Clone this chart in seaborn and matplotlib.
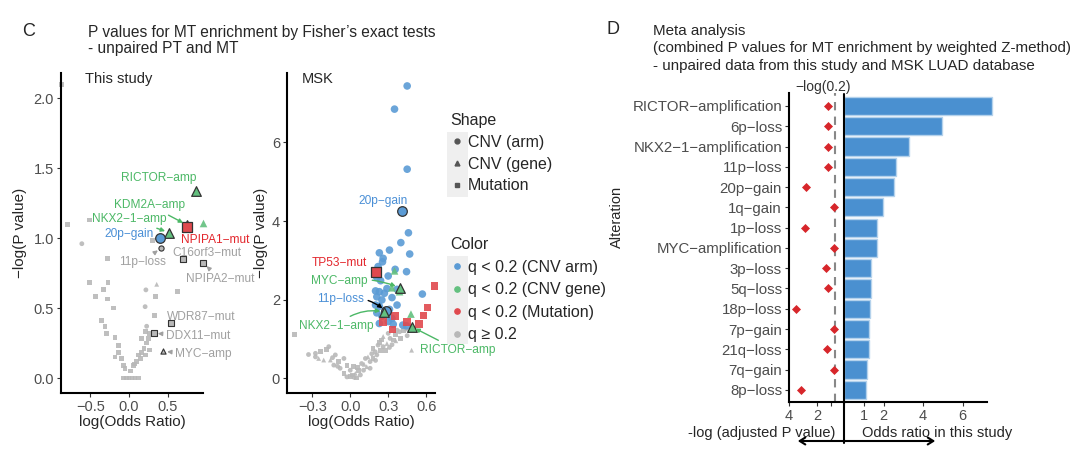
import numpy as np
import pandas as pd
import matplotlib
matplotlib.use('Agg')
import matplotlib.pyplot as plt
import matplotlib.patches as mpatches
from matplotlib.lines import Line2D
import seaborn as sns

# ---------------- data: panel C, "This study" ----------------
study_bg_x = [-0.87, -0.80, -0.51, -0.61, -0.28, -0.51, -0.27, -0.43, -0.33, -0.28,
              -0.20, -0.36, -0.31, -0.29, -0.18, -0.14, -0.13, -0.18, -0.095, -0.07,
              -0.05, -0.07, -0.03, 0.0, 0.04, 0.08, 0.12, 0.055, 0.10, 0.12,
              0.165, 0.195, 0.23, 0.165, 0.25, 0.22, 0.26, 0.22, 0.27, 0.34,
              0.36, 0.22, 0.21, 0.23, 0.33, 0.63, 0.31, 0.02, 0.07, 0.15]
study_bg_y = [2.10, 1.10, 1.13, 0.96, 0.855, 0.68, 0.68, 0.585, 0.63, 0.565,
              0.50, 0.41, 0.37, 0.32, 0.29, 0.23, 0.18, 0.15, 0.14, 0.09,
              0.07, 0.0, 0.0, 0.0, 0.0, 0.0, 0.0, 0.09, 0.12, 0.165,
              0.18, 0.21, 0.25, 0.28, 0.28, 0.33, 0.32, 0.165, 0.20, 0.58,
              0.67, 0.63, 0.51, 0.37, 0.445, 0.62, 0.985, 0.05, 0.10, 0.14]
study_bg_kind = ['mut'] * 50
study_bg_kind[3] = 'arm'
study_bg_kind[41] = 'arm'
study_bg_kind[42] = 'arm'
study_bg_kind[43] = 'arm'
study_bg_kind[40] = 'gene'

study_sig_x = [0.965]
study_sig_y = [1.11]
study_sig_kind = ['gene']

study_lab = ['RICTOR-amp', 'KDM2A-amp', 'NPIPA1-mut', 'NKX2-1-amp', '20p-gain', '11p-loss',
             'C16orf3-mut', 'NPIPA2-mut', 'WDR87-mut', 'DDX11-mut', 'MYC-amp']
study_lab_x = [0.87, 0.75, 0.75, 0.52, 0.40, 0.42, 0.70, 0.965, 0.545, 0.32, 0.44]
study_lab_y = [1.34, 1.095, 1.08, 1.04, 1.00, 0.93, 0.85, 0.82, 0.395, 0.32, 0.19]
study_lab_kind = ['gene', 'gene', 'mut', 'gene', 'arm', 'arm', 'mut', 'mut', 'mut', 'mut', 'gene']
study_lab_grp = ['gene', 'gene', 'mut', 'gene', 'arm', 'ns', 'ns', 'ns', 'ns', 'ns', 'ns']

# ---------------- data: panel C, MSK ----------------
msk_bg_x = [-0.44, -0.275, -0.236, -0.17, -0.157, -0.118, -0.09, -0.05, -0.026, 0.0,
            0.04, 0.08, 0.015, -0.026, 0.05, 0.105, 0.13, 0.157, 0.18, 0.21,
            0.236, 0.26, 0.29, 0.315, 0.355, 0.39, 0.42, 0.197, 0.14, 0.09,
            0.25, 0.30, 0.34, -0.13, -0.21, -0.08, -0.05, 0.12, 0.18, 0.22,
            0.26, 0.37, 0.066, 0.157, 0.026, -0.275, 0.485, -0.33, -0.19, -0.10,
            0.0, 0.03, 0.11, 0.20, 0.28, 0.33, 0.40, 0.44, -0.25, -0.14,
            0.06, 0.17, 0.23, 0.31, 0.36, 0.45]
msk_bg_y = [1.10, 0.54, 0.67, 0.80, 0.46, 0.59, 0.42, 0.50, 0.33, 0.20,
            0.12, 0.08, 0.08, 0.03, 0.0, 0.20, 0.29, 0.42, 0.50, 0.59,
            0.71, 0.80, 0.88, 1.01, 1.10, 1.18, 1.22, 0.67, 0.54, 0.37,
            0.97, 1.14, 0.97, 0.33, 0.46, 0.25, 0.12, 0.50, 0.76, 0.84,
            1.06, 1.22, 0.20, 0.25, 0.29, 0.63, 0.71, 0.60, 0.72, 0.30,
            0.05, 0.02, 0.35, 0.45, 0.70, 0.85, 1.00, 1.25, 0.50, 0.52,
            0.27, 0.62, 0.90, 0.78, 0.95, 1.08]
msk_bg_kind = (['mut', 'arm', 'mut', 'arm', 'gene', 'arm'] * 11)[:66]

msk_arm_x = [0.45, 0.35, 0.45, 0.46, 0.40, 0.31, 0.47, 0.23, 0.26, 0.255,
             0.22, 0.355, 0.445, 0.30, 0.21, 0.24, 0.29, 0.20, 0.23, 0.27,
             0.57, 0.37, 0.21, 0.25, 0.33, 0.20, 0.23, 0.37, 0.31, 0.21,
             0.25, 0.33, 0.23, 0.30, 0.34, 0.415, 0.445]
msk_arm_y = [7.44, 6.85, 5.32, 3.70, 3.45, 3.26, 3.16, 3.19, 3.05, 2.96,
             2.84, 2.77, 2.71, 2.60, 2.56, 2.48, 2.28, 2.22, 2.20, 2.16,
             2.14, 2.26, 2.07, 1.99, 2.05, 1.86, 1.83, 1.86, 1.75, 1.66,
             1.58, 1.52, 1.39, 1.44, 1.37, 1.35, 1.33]
msk_gene_x = [0.35, 0.33, 0.39, 0.48]
msk_gene_y = [2.73, 2.30, 2.20, 1.63]
msk_mut_x = [0.665, 0.61, 0.58, 0.545, 0.45, 0.355, 0.26, 0.335]
msk_mut_y = [2.35, 1.80, 1.59, 1.38, 1.43, 1.58, 1.43, 1.24]

msk_lab = ['20p-gain', 'TP53-mut', 'MYC-amp', '11p-loss', 'NKX2-1-amp', 'RICTOR-amp']
msk_lab_x = [0.41, 0.20, 0.39, 0.28, 0.27, 0.485]
msk_lab_y = [4.25, 2.69, 2.30, 1.71, 1.69, 1.31]
msk_lab_kind = ['arm', 'mut', 'gene', 'arm', 'gene', 'gene']

# ---------------- data: panel D ----------------
alterations = ['RICTOR\u2212amplification', '6p\u2212loss', 'NKX2\u22121\u2212amplification',
               '11p\u2212loss', '20p\u2212gain', '1q\u2212gain', '1p\u2212loss',
               'MYC\u2212amplification', '3p\u2212loss', '5q\u2212loss', '18p\u2212loss',
               '7p\u2212gain', '21q\u2212loss', '7q\u2212gain', '8p\u2212loss']
odds_ratio = [7.48, 4.96, 3.27, 2.65, 2.52, 1.98, 1.69, 1.69, 1.37, 1.34, 1.30, 1.27, 1.24, 1.14, 1.10]
neglog_padj = [1.19, 1.19, 1.19, 1.19, 2.81, 0.76, 2.86, 0.78, 1.36, 1.19, 3.52, 0.78, 1.31, 0.78, 3.16]
cutoff = -np.log10(0.2)

# ---------------- style ----------------
sns.set_theme(style='ticks')
plt.rcParams['font.family'] = ['Liberation Sans', 'DejaVu Sans']
plt.rcParams['axes.unicode_minus'] = True

BLUE, GREEN, RED, GREY = '#5B9BD5', '#63C07F', '#E0494E', '#B8B8B8'
PAL = {'arm': BLUE, 'gene': GREEN, 'mut': RED, 'ns': GREY}
TXT = {'arm': '#4A8FD6', 'gene': '#4CB866', 'mut': '#E3262C', 'ns': '#A0A0A0'}
MARK = {'arm': 'o', 'gene': '^', 'mut': 's'}
TICK = '#4D4D4D'
LABEL_FS = 8.6

W, H = 1080, 468
def fx(px): return px / W
def fy(py): return 1 - py / H
def box(l, t, r, b): return [fx(l), fy(b), (r - l) / W, (b - t) / H]

fig = plt.figure(figsize=(W / 100, H / 100), dpi=100)


def style_axis(ax):
    sns.despine(ax=ax)
    for s in ['left', 'bottom']:
        ax.spines[s].set_linewidth(1.5)
        ax.spines[s].set_color('black')
    ax.tick_params(length=3, width=0.8, color='#333333', labelcolor=TICK, labelsize=10.5, pad=2)


def draw_volcano(ax, bg, sig, lab):
    sns.scatterplot(data=bg, x='x', y='y', style='kind', markers=MARK, color=GREY,
                    s=12, linewidth=0, alpha=0.9, legend=False, ax=ax, zorder=2)
    sns.scatterplot(data=sig, x='x', y='y', hue='grp', style='kind', markers=MARK, palette=PAL,
                    s=30, linewidth=0, alpha=0.9, legend=False, ax=ax, zorder=3)
    for _, r in lab.iterrows():
        big = r['grp'] != 'ns'
        ax.scatter(r['x'], r['y'], marker=MARK[r['kind']], c=PAL[r['grp']],
                   s=48 if big else 14, edgecolors='#333333', linewidths=0.9 if big else 0.8, zorder=4)
    for c in ax.collections:
        c.set_clip_on(False)


# ---------------- panel C left ----------------
axA = fig.add_axes(box(61, 73, 203, 393))
bgA = pd.DataFrame({'x': study_bg_x, 'y': study_bg_y, 'kind': study_bg_kind})
sigA = pd.DataFrame({'x': study_sig_x, 'y': study_sig_y, 'kind': study_sig_kind, 'grp': study_sig_kind})
labA = pd.DataFrame({'x': study_lab_x, 'y': study_lab_y, 'kind': study_lab_kind, 'grp': study_lab_grp, 'name': study_lab})
draw_volcano(axA, bgA, sigA, labA)
axA.set_xlim(-0.88, 0.96)
axA.set_ylim(-0.107, 2.18)
axA.set_xticks([-0.5, 0, 0.5])
axA.set_xticklabels(['\u22120.5', '0.0', '0.5'])
axA.set_yticks([0, 0.5, 1, 1.5, 2])
axA.set_yticklabels(['0.0', '0.5', '1.0', '1.5', '2.0'])
axA.set_xlabel('log(Odds Ratio)', fontsize=11, labelpad=1)
axA.set_ylabel('\u2212log(P value)', fontsize=11, labelpad=5)
style_axis(axA)
axA.text(0.17, 0.98, 'This study', transform=axA.transAxes, fontsize=10.5, va='center')

# label placement (text position, arrow on/off)
place_A = {
    'RICTOR-amp': (0.39, 1.43, False),
    'KDM2A-amp': (0.27, 1.235, True),
    'NKX2-1-amp': (0.0, 1.14, True),
    '20p-gain': (0.0, 1.03, False),
    'NPIPA1-mut': (1.12, 0.99, False),
    '11p-loss': (0.17, 0.83, True),
    'C16orf3-mut': (1.01, 0.89, False),
    'NPIPA2-mut': (1.18, 0.71, True),
    'WDR87-mut': (0.935, 0.435, False),
    'DDX11-mut': (0.90, 0.30, True),
    'MYC-amp': (0.97, 0.17, True),
}
for _, r in labA.iterrows():
    tx, ty, arrow = place_A[r['name']]
    col = TXT[r['grp']]
    txt = r['name'].replace('-', '\u2212')
    props = dict(arrowstyle='-|>', color=col, lw=1.0, mutation_scale=6, shrinkA=1, shrinkB=3) if arrow else None
    axA.annotate(txt, xy=(r['x'], r['y']), xytext=(tx, ty), fontsize=LABEL_FS, color=col,
                 ha='center', va='center', arrowprops=props, annotation_clip=False, zorder=5)

# ---------------- panel C right (MSK) ----------------
axB = fig.add_axes(box(287, 73, 435, 393))
bgB = pd.DataFrame({'x': msk_bg_x, 'y': msk_bg_y, 'kind': msk_bg_kind})
sigB = pd.DataFrame({'x': msk_arm_x + msk_gene_x + msk_mut_x,
                     'y': msk_arm_y + msk_gene_y + msk_mut_y,
                     'kind': ['arm'] * len(msk_arm_x) + ['gene'] * len(msk_gene_x) + ['mut'] * len(msk_mut_x)})
sigB['grp'] = sigB['kind']
labB = pd.DataFrame({'x': msk_lab_x, 'y': msk_lab_y, 'kind': msk_lab_kind, 'grp': msk_lab_kind, 'name': msk_lab})
draw_volcano(axB, bgB, sigB, labB)
axB.set_xlim(-0.5, 0.67)
axB.set_ylim(-0.38, 7.77)
axB.set_xticks([-0.3, 0, 0.3, 0.6])
axB.set_xticklabels(['\u22120.3', '0.0', '0.3', '0.6'])
axB.set_yticks([0, 2, 4, 6])
axB.set_xlabel('log(Odds Ratio)', fontsize=11, labelpad=1)
axB.set_ylabel('\u2212log(P value)', fontsize=11, labelpad=3)
style_axis(axB)
axB.text(0.10, 0.98, 'MSK', transform=axB.transAxes, fontsize=10.5, va='center')

place_B = {
    '20p-gain': (0.26, 4.51, None, None),
    'TP53-mut': (-0.087, 2.93, None, None),
    'MYC-amp': (-0.087, 2.47, TXT['gene'], 'arc3,rad=-0.15'),
    '11p-loss': (-0.08, 2.01, 'black', 'arc3,rad=-0.25'),
    'NKX2-1-amp': (-0.11, 1.32, TXT['gene'], 'arc3,rad=-0.25'),
    'RICTOR-amp': (0.85, 0.71, TXT['gene'], 'arc3,rad=0'),
}
for _, r in labB.iterrows():
    tx, ty, acol, conn = place_B[r['name']]
    txt = r['name'].replace('-', '\u2212')
    props = None
    if acol is not None:
        props = dict(arrowstyle='-|>', color=acol, lw=1.0, mutation_scale=6, shrinkA=1, shrinkB=3,
                     connectionstyle=conn)
    axB.annotate(txt, xy=(r['x'], r['y']), xytext=(tx, ty), fontsize=LABEL_FS, color=TXT[r['grp']],
                 ha='center', va='center', arrowprops=props, annotation_clip=False, zorder=5)

# ---------------- legends ----------------
shape_h = [Line2D([], [], marker=m, ls='', color='#555555', markersize=3.5) for m in ['o', '^', 's']]
color_h = [Line2D([], [], marker='o', ls='', color=c, markersize=3.8) for c in [BLUE, GREEN, RED, GREY]]
for (t, b) in [(132, 197), (256, 344)]:
    fig.add_artist(mpatches.Rectangle((fx(447), fy(b)), 21 / W, (b - t) / H, transform=fig.transFigure,
                                      facecolor='#EFEFEF', edgecolor='none', zorder=0))
lkw = dict(loc='upper left', frameon=False, fontsize=11.5, title_fontsize=11.5, alignment='left',
           handlelength=0.8, handletextpad=0.3, borderpad=0.2, borderaxespad=0)
fig.legend(shape_h, ['CNV (arm)', 'CNV (gene)', 'Mutation'], title='Shape', labelspacing=0.42,
           bbox_to_anchor=(fx(447), fy(110)), **lkw)
fig.legend(color_h, ['q < 0.2 (CNV arm)', 'q < 0.2 (CNV gene)', 'q < 0.2 (Mutation)', 'q \u2265 0.2'],
           title='Color', labelspacing=0.47, bbox_to_anchor=(fx(447), fy(234)), **lkw)

# ---------------- panel D ----------------
axL = fig.add_axes(box(789, 93, 845, 402))
axR = fig.add_axes(box(844, 93, 994, 402))
sns.stripplot(x=neglog_padj, y=alterations, orient='h', jitter=False, marker='D', size=4.6,
              color='#D7262B', linewidth=0, ax=axL, zorder=3)
axL.axvline(cutoff, color='#888888', ls=(0, (4, 3)), lw=1.5, zorder=1)
axL.set_xlim(4.0, 0.0)
axL.set_ylim(14.6, -0.64)
axL.set_xticks([4, 2, 1])
axL.set_xticklabels(['4', '2', ''])
axL.set_xlabel('')
axL.set_ylabel('')
style_axis(axL)
axL.tick_params(axis='y', labelsize=10.8)

sns.barplot(x=odds_ratio, y=alterations, orient='h', color='#4A90D0', saturation=1, edgecolor='#B4D2EC',
            linewidth=1, width=0.9, ax=axR, zorder=2)
axR.set_xlim(0, 7.58)
axR.set_ylim(14.6, -0.64)
axR.set_xticks([1, 2, 4, 6])
axR.set_yticks([])
axR.set_xlabel('')
axR.set_ylabel('')
style_axis(axR)
axR.spines['left'].set_visible(False)
axR.spines['bottom'].set_bounds(0, 7.25)

fig.add_artist(Line2D([fx(844), fx(844)], [fy(94), fy(443)], color='black', lw=1.5))
fig.add_artist(mpatches.FancyArrowPatch((fx(795), fy(441)), (fx(938), fy(441)), transform=fig.transFigure,
                                        arrowstyle='<->,head_length=4,head_width=2.5', lw=1.5, color='black'))
fig.text(fx(835), fy(433), '-log (adjusted P value)', ha='right', va='center', fontsize=10.5)
fig.text(fx(862), fy(433), 'Odds ratio in this study', ha='left', va='center', fontsize=10.5)
fig.text(fx(617), fy(217), 'Alteration', rotation=90, ha='center', va='center', fontsize=10.5)
fig.text(fx(823), fy(87), '\u2212log(0.2)', ha='center', va='center', fontsize=10, color='#333333')

# ---------------- titles ----------------
fig.text(fx(22), fy(32), 'C', fontsize=13, va='center')
fig.text(fx(88), fy(32), "P values for MT enrichment by Fisher\u2019s exact tests", fontsize=11.2, va='center')
fig.text(fx(88), fy(48), '- unpaired PT and MT', fontsize=11.2, va='center')
fig.text(fx(606), fy(30), 'D', fontsize=13, va='center')
fig.text(fx(653), fy(31), 'Meta analysis', fontsize=10.9, va='center')
fig.text(fx(653), fy(48), '(combined P values for MT enrichment by weighted Z-method)', fontsize=10.9, va='center')
fig.text(fx(653), fy(66), '- unpaired data from this study and MSK LUAD database', fontsize=10.9, va='center')

fig.savefig('out.png', dpi=100)
